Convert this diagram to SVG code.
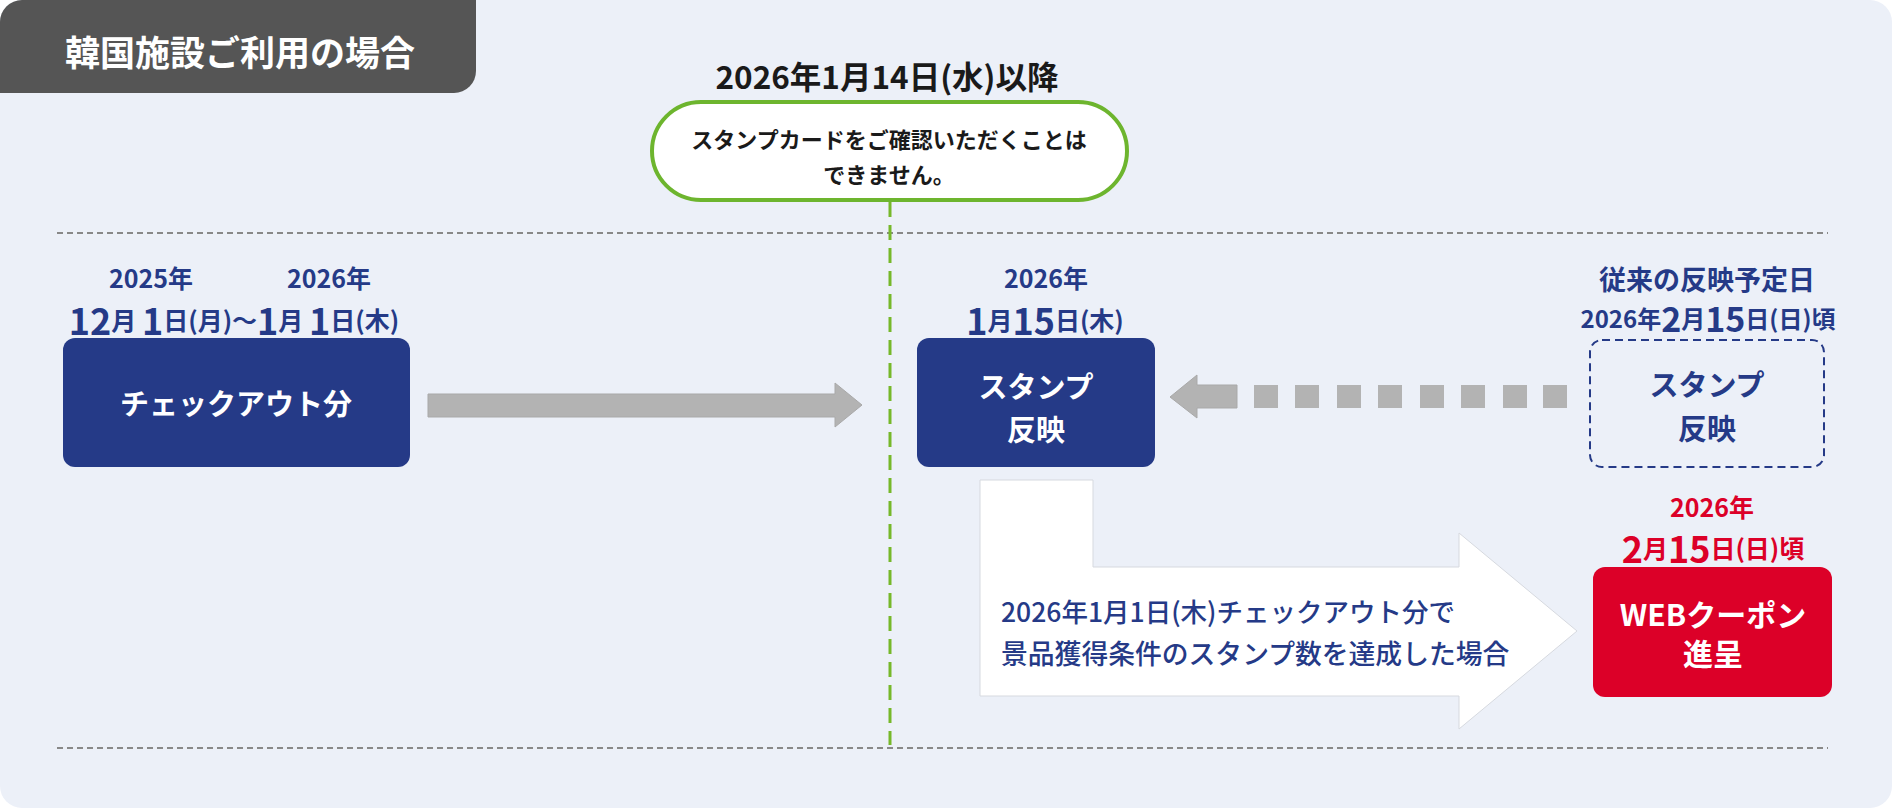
<svg xmlns="http://www.w3.org/2000/svg" width="1892" height="808" viewBox="0 0 1892 808">
<style>
text{font-family:"Noto Sans CJK JP","Noto Sans",sans-serif;font-weight:700;dominant-baseline:central;text-anchor:middle}
.navy{fill:#253a87}
.white{fill:#ffffff}
.red{fill:#dc0028}
.dark{fill:#1a1a1a}
.big{font-size:36px}
.sm{font-size:25px}
.box{fill:#253a87}
</style>
<rect x="0" y="0" width="1892" height="808" rx="22" fill="#ecf0f8"/>
<g id="title">
<path d="M22 0 H476 V71 A22 22 0 0 1 454 93 H0 V22 A22 22 0 0 1 22 0 Z" fill="#555555"/>
<text x="240" y="50" class="white" style="font-size:35px">韓国施設ご利用の場合</text>
</g>
<g id="guides">
<line x1="57" y1="233" x2="1828" y2="233" stroke="#888" stroke-width="2" stroke-dasharray="6 4"/>
<line x1="57" y1="748" x2="1828" y2="748" stroke="#888" stroke-width="2" stroke-dasharray="6 4"/>
</g>
<g id="connectors">
<line x1="890" y1="202" x2="890" y2="745" stroke="#76b82a" stroke-width="3" stroke-dasharray="15 8"/>
<polygon points="428,394 835,394 835,383 862,405 835,427 835,417 428,417" fill="#b3b3b3" stroke="#a9a9a9" stroke-width="1"/>
<polygon points="1170,397 1197,375 1197,385 1237,385 1237,408 1197,408 1197,418" fill="#b3b3b3" stroke="#a9a9a9" stroke-width="1"/>
<g fill="#b3b3b3">
<rect x="1254" y="385" width="24" height="23"/>
<rect x="1295" y="385" width="24" height="23"/>
<rect x="1337" y="385" width="24" height="23"/>
<rect x="1378" y="385" width="24" height="23"/>
<rect x="1420" y="385" width="24" height="23"/>
<rect x="1461" y="385" width="24" height="23"/>
<rect x="1503" y="385" width="24" height="23"/>
<rect x="1543" y="385" width="24" height="23"/>
</g>
<polygon points="980,480 1093,480 1093,567 1459,567 1459,533 1577,631 1459,729 1459,696 980,696" fill="#ffffff" stroke="#d6d9df" stroke-width="1"/>
<text x="1001" y="610" class="navy" style="font-size:26.5px;font-weight:500;text-anchor:start">2026年1月1日(木)チェックアウト分で</text>
<text x="1001" y="652" class="navy" style="font-size:26.8px;font-weight:500;text-anchor:start">景品獲得条件のスタンプ数を達成した場合</text>
</g>
<g id="top-label">
<text x="887" y="75" class="dark" style="font-size:31.5px">2026年1月14日(水)以降</text>
</g>
<g id="notice">
<rect x="652" y="102" width="475" height="98" rx="49" fill="#ffffff" stroke="#6db52e" stroke-width="4"/>
<text x="889" y="138" class="dark" style="font-size:22px">スタンプカードをご確認いただくことは</text>
<text x="889" y="173" class="dark" style="font-size:22px">できません。</text>
</g>
<g id="checkout">
<text x="151" y="277" class="navy" style="font-size:25px">2025年</text>
<text x="329" y="277" class="navy" style="font-size:25px">2026年</text>
<text x="234" y="319" class="navy"><tspan class="big">12</tspan><tspan class="sm">月 </tspan><tspan class="big">1</tspan><tspan class="sm">日(月)～</tspan><tspan class="big">1</tspan><tspan class="sm">月 </tspan><tspan class="big">1</tspan><tspan class="sm">日(木)</tspan></text>
<rect x="63" y="338" width="347" height="129" rx="12" class="box"/>
<text x="236" y="402" class="white" style="font-size:29px">チェックアウト分</text>
</g>
<g id="stamp">
<text x="1046" y="277" class="navy" style="font-size:25px">2026年</text>
<text x="1045" y="319" class="navy"><tspan class="big">1</tspan><tspan class="sm">月</tspan><tspan class="big">15</tspan><tspan class="sm">日(木)</tspan></text>
<rect x="917" y="338" width="238" height="129" rx="12" class="box"/>
<text x="1036" y="385" class="white" style="font-size:29px">スタンプ</text>
<text x="1036" y="428" class="white" style="font-size:29px">反映</text>
</g>
<g id="planned">
<text x="1707" y="278" class="navy" style="font-size:27px">従来の反映予定日</text>
<text x="1708" y="317" class="navy" style="font-size:24px">2026年<tspan style="font-size:34px">2</tspan>月<tspan style="font-size:34px">15</tspan>日(日)頃</text>
<rect x="1590" y="340" width="234" height="127" rx="12" fill="none" stroke="#253a87" stroke-width="2" stroke-dasharray="8 5"/>
<text x="1707" y="383" class="navy" style="font-size:29px">スタンプ</text>
<text x="1707" y="427" class="navy" style="font-size:29px">反映</text>
</g>
<g id="coupon">
<text x="1712" y="506" class="red" style="font-size:25px">2026年</text>
<text x="1713" y="547" class="red"><tspan class="big">2</tspan><tspan class="sm">月</tspan><tspan class="big">15</tspan><tspan class="sm">日(日)頃</tspan></text>
<rect x="1593" y="567" width="239" height="130" rx="12" fill="#dc0028"/>
<text x="1713" y="613" class="white" style="font-size:30px">WEBクーポン</text>
<text x="1713" y="652" class="white" style="font-size:30px">進呈</text>
</g>
</svg>
